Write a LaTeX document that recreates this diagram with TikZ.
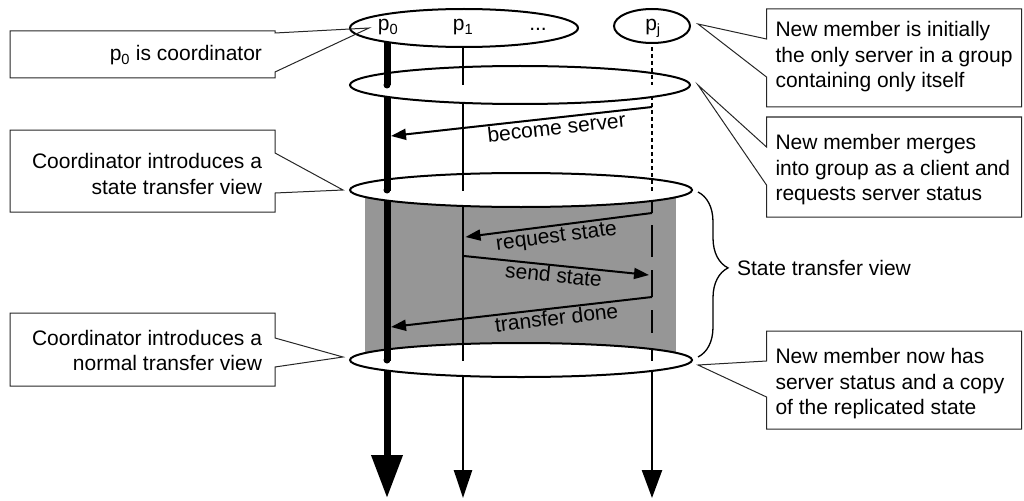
\documentclass[tikz,border=0pt]{standalone}
\usepackage{fontspec}
\setmainfont{Liberation Sans}
\usetikzlibrary{arrows.meta,calc,decorations.pathreplacing}
\definecolor{viewgray}{RGB}{150,150,150}

% the three process time lines (drawn again inside the upper half of each view ring)
\newcommand\processlines{%
  % p0: coordinator, heavy line
  \draw[line width=7pt, -{Triangle[length=43pt,width=30pt]}] (387,28) -- (387,498);
  % p1
  \draw[line width=2.5pt, -{Triangle[length=28pt,width=18pt]}] (463,28) -- (463,498);
  % pj: client before the state transfer
  \draw[line width=2.5pt, dash pattern=on 4pt off 3pt] (652,26) -- (652,190);
  % pj: during the state transfer view
  \draw[line width=2.5pt] (652,190) -- (652,213);
  \draw[line width=2.5pt] (652,225) -- (652,257);
  \draw[line width=2.5pt] (652,270) -- (652,297);
  \draw[line width=2.5pt] (652,310) -- (652,333);
  \draw[line width=2.5pt, -{Triangle[length=28pt,width=20pt]}] (652,348) -- (652,498);
}

% white view ring, with the time lines visible in its upper half
\newcommand\viewring[4]{%
  \draw[ring] (#1,#2) ellipse [x radius=#3, y radius=#4];
  \begin{scope}
    \clip (#1,#2) ellipse [x radius=#3, y radius=#4];
    \clip ({#1-#3-5},{#2-#4-5}) rectangle ({#1+#3+5},#2);
    \processlines
  \end{scope}
  \fill (387,#2) circle (3.5);
}

\begin{document}
\begin{tikzpicture}[x=1pt,y=-1pt,
  every node/.style={font=\fontsize{21}{25.5}\selectfont, outer sep=0pt},
  ring/.style={draw, line width=2pt, fill=white},
  msg/.style={line width=2pt, -{Triangle[length=15pt,width=11pt]}},
  msglabel/.style={sloped, below, inner sep=2pt, text height=15pt, text depth=4.5pt},
  cbox/.style={minimum width=#1, inner sep=0pt},
  ctextL/.style={align=right, inner sep=0pt, anchor=east},
  ctextR/.style={align=left, inner sep=0pt, anchor=west},
  callout/.style={draw=black!85, line width=1pt, line join=miter},
  bracestyle/.style={line width=1.3pt, decorate,
    decoration={brace, amplitude=30pt, aspect=0.46}}]

\useasboundingbox (0,0) rectangle (1024,500);

% shaded state transfer view
\fill[viewgray] (365,190) rectangle (676,360);

\processlines

% initial groups
\draw[ring] (464,28) ellipse [x radius=114, y radius=19];
\draw[ring] (652,26) ellipse [x radius=38, y radius=17];
\node[anchor=base] (lp0) at (388,31) {p\textsubscript{0}};
\node[anchor=base] (lp1) at (463,31) {p\textsubscript{1}};
\node[anchor=base] (ldots) at (538,31) {...};
\node[anchor=base] (lpj) at (653,31) {p\textsubscript{j}};

% views
\viewring{520}{85}{170}{19}
\viewring{521}{190}{171}{17}
\viewring{521}{360}{171}{17}

% messages
\coordinate (bsA) at (652,107);
\coordinate (bsB) at (391,136);
\coordinate (rqA) at (652,213);
\coordinate (rqB) at (465.5,237);
\coordinate (ssA) at (464,256);
\coordinate (ssB) at (649,275);
\coordinate (tdA) at (652,297);
\coordinate (tdB) at (391,327);
\draw[msg] (bsA) -- (bsB) node[msglabel, pos=0.37] (lbs) {become server};
\draw[msg] (rqA) -- (rqB) node[msglabel, pos=0.52] (lrq) {request state};
\draw[msg] (ssA) -- (ssB) node[msglabel, pos=0.49] (lss) {send state};
\draw[msg] (tdA) -- (tdB) node[msglabel, pos=0.37] (ltd) {transfer done};

% brace for the state transfer view
\coordinate (brT) at (698,192);
\coordinate (brB) at (698,357);
\draw[bracestyle] (brT) -- (brB);
\node[anchor=west, inner sep=2pt] (stv) at (735,268) {State transfer view};

% callouts on the left
\node[cbox=265pt, minimum height=47pt] (c1) at (142.5,54.5) {};
\node[cbox=265pt, minimum height=82pt] (c2) at (142.5,171) {};
\node[cbox=265pt, minimum height=73pt] (c3) at (142.5,349.5) {};
\node[ctextL] (c1txt) at ($(c1.east)+(-13,1)$) {p\textsubscript{0} is coordinator};
\node[ctextL] (c2txt) at ($(c2.east)+(-13,3)$) {Coordinator introduces a\\state transfer view};
\node[ctextL] (c3txt) at ($(c3.east)+(-13,1)$) {Coordinator introduces a\\normal transfer view};

\coordinate (c1a) at (275,33);  \coordinate (c1b) at (275,72);  \coordinate (c1t) at (369,28);
\coordinate (c2a) at (275,153); \coordinate (c2b) at (275,193); \coordinate (c2t) at (343,190);
\coordinate (c3a) at (275,338); \coordinate (c3b) at (275,367); \coordinate (c3t) at (343,357);

\draw[callout] (c1.north west) -- (c1.north east) -- (c1a) -- (c1t) -- (c1b) -- (c1.south east) -- (c1.south west) -- cycle;
\draw[callout] (c2.north west) -- (c2.north east) -- (c2a) -- (c2t) -- (c2b) -- (c2.south east) -- (c2.south west) -- cycle;
\draw[callout] (c3.north west) -- (c3.north east) -- (c3a) -- (c3t) -- (c3b) -- (c3.south east) -- (c3.south west) -- cycle;

% callouts on the right
\node[cbox=255pt, minimum height=98pt] (c4) at (894,58) {};
\node[cbox=255pt, minimum height=100pt] (c5) at (894,167) {};
\node[cbox=255pt, minimum height=98pt] (c6) at (894,380) {};
\node[ctextR] (c4txt) at ($(c4.west)+(9,-1)$) {New member is initially\\the only server in a group\\containing only itself};
\node[ctextR] (c5txt) at ($(c5.west)+(9,3)$) {New member merges\\into group as a client and\\requests server status};
\node[ctextR] (c6txt) at ($(c6.west)+(9,4)$) {New member now has\\server status and a copy\\of the replicated state};

\coordinate (c4a) at (766.5,39);  \coordinate (c4b) at (766.5,77);  \coordinate (c4t) at (698,24);
\coordinate (c5a) at (766.5,147); \coordinate (c5b) at (766.5,185); \coordinate (c5t) at (698,85);
\coordinate (c6a) at (766.5,361); \coordinate (c6b) at (766.5,397); \coordinate (c6t) at (698,365);

\draw[callout] (c4.north east) -- (c4.north west) -- (c4a) -- (c4t) -- (c4b) -- (c4.south west) -- (c4.south east) -- cycle;
\draw[callout] (c5.north east) -- (c5.north west) -- (c5a) -- (c5t) -- (c5b) -- (c5.south west) -- (c5.south east) -- cycle;
\draw[callout] (c6.north east) -- (c6.north west) -- (c6a) -- (c6t) -- (c6b) -- (c6.south west) -- (c6.south east) -- cycle;

\end{tikzpicture}
\end{document}
